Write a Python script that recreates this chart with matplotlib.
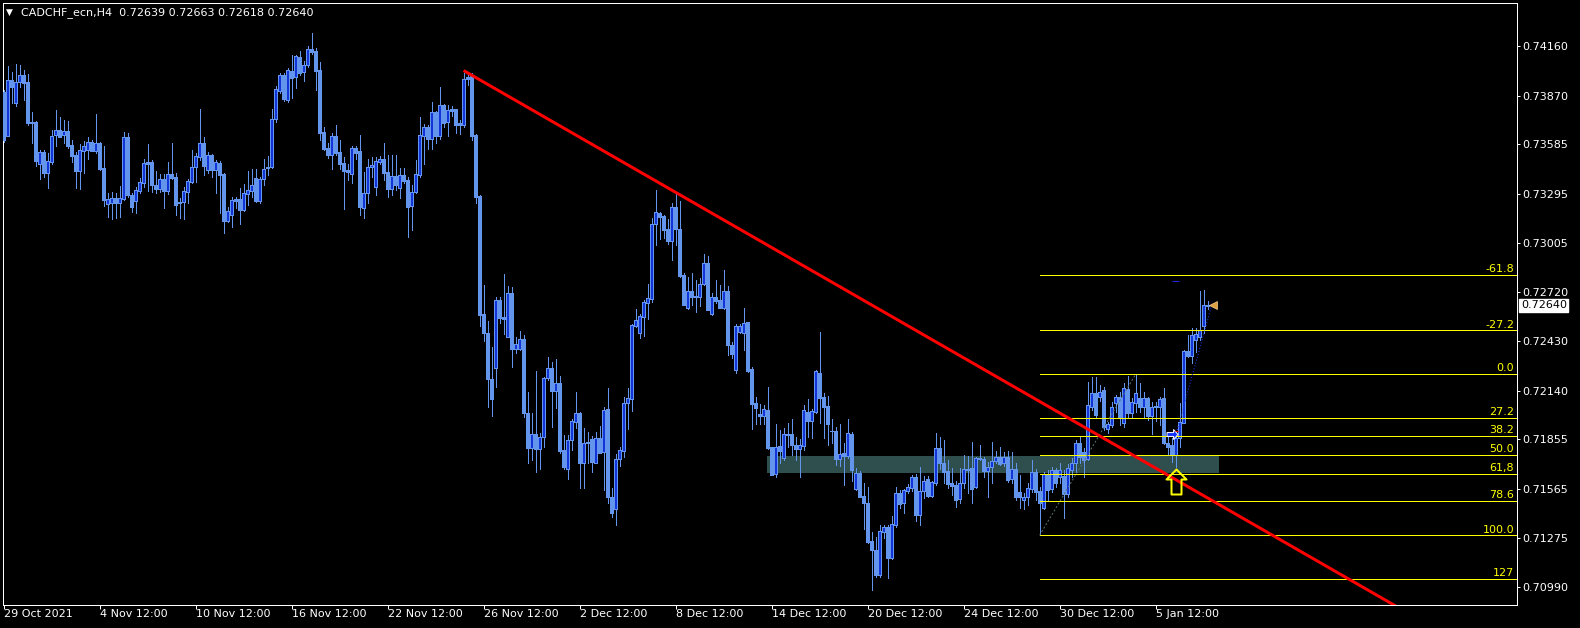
import matplotlib
matplotlib.use("Agg")
import matplotlib.pyplot as plt
import numpy as np
from matplotlib.patches import Rectangle
from matplotlib.path import Path

# CADCHF_ecn H4 candles, first bar 29 Oct 2021 12:00; prices in points (1e-5)
opens_pts = [
    73892, 73634, 73963, 73828, 73951, 73992, 73951, 73716, 73716, 73470,
    73540, 73417, 73482, 73640, 73669, 73640, 73663, 73581, 73523, 73429,
    73546, 73552, 73599, 73546, 73593, 73446, 73235, 73241, 73270, 73241,
    73264, 73628, 73288, 73253, 73311, 73358, 73482, 73482, 73347, 73323,
    73382, 73311, 73411, 73394, 73247, 73247, 73306, 73364, 73452, 73511,
    73593, 73435, 73523, 73435, 73476, 73411, 73135, 73171, 73264, 73264,
    73200, 73294, 73311, 73388, 73253, 73382, 73446, 73452, 73734, 73898,
    73992, 73845, 74015, 73980, 74098, 74010, 74051, 74145, 74133, 74021,
    73658, 73564, 73523, 73634, 73540, 73476, 73435, 73411, 73564, 73546,
    73212, 73300, 73452, 73335, 73482, 73499, 73423, 73323, 73399, 73329,
    73405, 73376, 73223, 73306, 73405, 73634, 73687, 73617, 73775, 73634,
    73816, 73716, 73793, 73793, 73710, 73699, 73980, 73992, 73640, 73282,
    72590, 72478, 72208, 72273, 72672, 72572, 72455, 72713, 72384, 72384,
    72443, 72009, 71804, 71886, 71798, 71868, 72214, 72273, 72138, 72185,
    71792, 71680, 71851, 71956, 72009, 71716, 71833, 71856, 71716, 71862,
    71780, 72032, 71516, 71446, 71739, 71786, 72068, 72091, 72519, 72478,
    72572, 72654, 72678, 73118, 73182, 73165, 73089, 73018, 73217, 73089,
    72819, 72625, 72725, 72695, 72690, 72766, 72889, 72590, 72690, 72672,
    72625, 72725, 72408, 72262, 72484, 72478, 72543, 72267, 72068, 72003,
    71991, 72027, 71810, 71651, 71815, 71745, 71886, 71886, 71821, 71798,
    71815, 72015, 71962, 72015, 72244, 72103, 72050, 71903, 71903, 71739,
    71774, 71757, 71886, 71563, 71657, 71522, 71481, 71258, 71205, 71058,
    71311, 71340, 71158, 71352, 71540, 71481, 71551, 71569, 71633, 71410,
    71551, 71622, 71522, 71598, 71804, 71716, 71669, 71598, 71587, 71504,
    71598, 71675, 71686, 71575, 71745, 71739, 71669, 71692, 71727, 71751,
    71716, 71751, 71622, 71680, 71546, 71499, 71516, 71563, 71663, 71551,
    71452, 71651, 71563, 71675, 71633, 71639, 71534, 71675, 71716, 71833,
    71780, 71739, 72044, 72126, 72103, 72144, 71915, 71939, 72068, 72103,
    71950, 72150, 72009, 72068, 72097, 72044, 72097, 71991, 72044, 72044,
    72097, 71833, 71821, 71763, 71862, 71950, 72373, 72343, 72437, 72455,
    72519, 72639,
]
highs_pts = [
    73904, 74045, 74010, 74057, 74051, 74021, 73998, 73775, 73722, 73552,
    73552, 73534, 73669, 73787, 73746, 73728, 73722, 73611, 73540, 73587,
    73605, 73628, 73611, 73763, 73599, 73575, 73300, 73306, 73300, 73341,
    73658, 73652, 73300, 73335, 73388, 73499, 73587, 73493, 73429, 73411,
    73411, 73482, 73593, 73417, 73270, 73335, 73382, 73552, 73534, 73793,
    73628, 73540, 73528, 73493, 73487, 73417, 73217, 73276, 73276, 73329,
    73353, 73429, 73441, 73441, 73394, 73499, 73517, 73793, 73927, 74004,
    74004, 74033, 74109, 74109, 74133, 74074, 74162, 74238, 74150, 74068,
    73687, 73593, 73652, 73699, 73611, 73511, 73470, 73575, 73575, 73640,
    73423, 73499, 73511, 73511, 73517, 73593, 73523, 73523, 73523, 73446,
    73446, 73394, 73347, 73493, 73746, 73705, 73699, 73834, 73781, 73922,
    73822, 73816, 73810, 73793, 73728, 74004, 74004, 74004, 73646, 73288,
    72760, 72549, 72396, 72690, 72690, 72824, 72754, 72748, 72455, 72490,
    72467, 72132, 72009, 72255, 71892, 72220, 72338, 72308, 72326, 72226,
    71880, 71880, 71974, 72132, 72015, 71921, 71897, 71874, 71897, 71933,
    72044, 72156, 71569, 71768, 71810, 72103, 72156, 72531, 72619, 72590,
    72672, 72766, 73153, 73317, 73188, 73171, 73147, 73241, 73300, 73253,
    72830, 72807, 72830, 72789, 72801, 72942, 72930, 72713, 72789, 72760,
    72848, 72754, 72426, 72531, 72531, 72625, 72543, 72279, 72103, 72062,
    72056, 72162, 71810, 71944, 71909, 71921, 71950, 71974, 71868, 71856,
    72056, 72091, 72032, 72262, 72484, 72126, 72109, 71974, 71927, 71944,
    71833, 71974, 71897, 71686, 71669, 71598, 71575, 71311, 71281, 71352,
    71352, 71352, 71405, 71575, 71557, 71563, 71592, 71645, 71651, 71692,
    71639, 71639, 71610, 71892, 71868, 71851, 71733, 71686, 71610, 71686,
    71763, 71757, 71839, 71751, 71821, 71751, 71722, 71839, 71786, 71810,
    71780, 71786, 71780, 71716, 71645, 71540, 71598, 71733, 71680, 71575,
    71663, 71675, 71692, 71686, 71716, 71675, 71710, 71745, 71851, 71868,
    71804, 72191, 72220, 72220, 72173, 72162, 71956, 72074, 72115, 72132,
    72185, 72226, 72097, 72236, 72185, 72132, 72103, 72074, 72074, 72103,
    72156, 71897, 71862, 71892, 72068, 72379, 72467, 72508, 72508, 72725,
    72731, 72663,
]
lows_pts = [
    73599, 73634, 73828, 73810, 73922, 73845, 73699, 73593, 73458, 73382,
    73394, 73329, 73470, 73575, 73628, 73593, 73564, 73482, 73329, 73323,
    73417, 73499, 73546, 73534, 73435, 73223, 73159, 73147, 73153, 73159,
    73258, 73276, 73188, 73182, 73300, 73335, 73311, 73306, 73300, 73306,
    73212, 73294, 73382, 73171, 73153, 73147, 73241, 73358, 73364, 73493,
    73405, 73417, 73394, 73300, 73182, 73065, 73130, 73100, 73212, 73118,
    73194, 73229, 73276, 73247, 73241, 73347, 73405, 73446, 73716, 73886,
    73839, 73834, 73857, 73916, 73992, 73957, 74039, 74115, 73904, 73611,
    73552, 73505, 73441, 73523, 73441, 73206, 73376, 73358, 73499, 73171,
    73153, 73241, 73394, 73288, 73470, 73376, 73276, 73288, 73317, 73270,
    73358, 73042, 73083, 73300, 73394, 73470, 73558, 73558, 73593, 73617,
    73687, 73634, 73751, 73652, 73646, 73687, 73933, 73611, 73241, 72519,
    72431, 72044, 71991, 72162, 72537, 72472, 72455, 72279, 72361, 72379,
    71985, 71716, 71733, 71663, 71680, 71810, 72203, 71927, 72038, 71774,
    71680, 71622, 71792, 71921, 71569, 71569, 71716, 71663, 71716, 71774,
    71557, 71481, 71399, 71352, 71698, 71751, 71915, 72021, 72514, 72449,
    72461, 72560, 72660, 72995, 73030, 73036, 73001, 72907, 72995, 72807,
    72643, 72619, 72643, 72602, 72637, 72760, 72613, 72584, 72654, 72625,
    72619, 72349, 72332, 72244, 72478, 72379, 72250, 71915, 71944, 71944,
    71944, 71798, 71645, 71633, 71716, 71733, 71810, 71763, 71733, 71633,
    71792, 71868, 71862, 72009, 71950, 71862, 71821, 71833, 71704, 71698,
    71587, 71745, 71610, 71557, 71516, 71328, 71246, 70970, 71047, 71047,
    71276, 71041, 71152, 71340, 71452, 71422, 71540, 71551, 71375, 71352,
    71510, 71516, 71516, 71587, 71680, 71598, 71569, 71528, 71457, 71481,
    71569, 71540, 71481, 71569, 71733, 71633, 71516, 71598, 71716, 71704,
    71698, 71604, 71598, 71499, 71452, 71446, 71469, 71546, 71499, 71300,
    71446, 71499, 71546, 71575, 71598, 71393, 71516, 71633, 71663, 71716,
    71633, 71733, 72027, 71985, 72079, 71909, 71892, 71927, 72015, 71939,
    71927, 71985, 71980, 72015, 72015, 71980, 71968, 71886, 71962, 71939,
    71827, 71763, 71722, 71692, 71810, 71950, 72338, 72302, 72367, 72437,
    72478, 72618,
]
closes_pts = [
    73611, 73963, 73922, 73951, 73992, 73945, 73710, 73710, 73487, 73540,
    73417, 73487, 73634, 73669, 73628, 73663, 73575, 73517, 73429, 73552,
    73575, 73599, 73546, 73593, 73441, 73258, 73264, 73270, 73241, 73270,
    73628, 73288, 73217, 73317, 73364, 73476, 73470, 73347, 73323, 73382,
    73311, 73411, 73388, 73229, 73241, 73311, 73370, 73452, 73517, 73593,
    73458, 73523, 73435, 73482, 73405, 73135, 73194, 73258, 73253, 73200,
    73300, 73317, 73347, 73253, 73382, 73441, 73452, 73734, 73910, 73992,
    73851, 74021, 73974, 74103, 74004, 74051, 74145, 74127, 74015, 73652,
    73558, 73523, 73634, 73534, 73470, 73429, 73423, 73564, 73534, 73217,
    73300, 73452, 73464, 73487, 73499, 73417, 73323, 73399, 73347, 73405,
    73370, 73217, 73306, 73411, 73640, 73687, 73617, 73775, 73634, 73816,
    73710, 73787, 73781, 73699, 73699, 73969, 73969, 73634, 73276, 72584,
    72478, 72208, 72091, 72672, 72566, 72560, 72713, 72384, 72414, 72443,
    72009, 71804, 71886, 71798, 71868, 72214, 72273, 72138, 72185, 71786,
    71692, 71851, 71962, 72009, 71716, 71833, 71839, 71722, 71862, 71774,
    72027, 71516, 71422, 71739, 71792, 72068, 72097, 72525, 72555, 72578,
    72660, 72684, 73118, 73188, 73159, 73083, 73018, 73217, 73089, 72813,
    72643, 72725, 72690, 72690, 72766, 72889, 72613, 72690, 72666, 72625,
    72725, 72408, 72355, 72519, 72519, 72537, 72255, 72062, 72038, 71991,
    72032, 71804, 71645, 71810, 71786, 71886, 71880, 71821, 71798, 71821,
    72027, 71962, 72021, 72255, 72097, 72044, 71944, 71903, 71739, 71768,
    71757, 71892, 71675, 71657, 71516, 71481, 71252, 71205, 71058, 71317,
    71340, 71158, 71358, 71540, 71475, 71557, 71575, 71633, 71410, 71551,
    71610, 71522, 71604, 71804, 71716, 71663, 71592, 71581, 71499, 71598,
    71680, 71680, 71563, 71745, 71739, 71669, 71692, 71727, 71751, 71710,
    71751, 71616, 71680, 71516, 71516, 71516, 71569, 71663, 71546, 71481,
    71651, 71557, 71675, 71598, 71675, 71534, 71686, 71716, 71833, 71751,
    71733, 72056, 72126, 71997, 72132, 71927, 71944, 72044, 72103, 71980,
    72156, 72009, 72074, 72126, 72044, 72097, 71991, 72044, 72050, 72091,
    71833, 71810, 71763, 71862, 71956, 72373, 72343, 72467, 72472, 72496,
    72643, 72640,
]

symbol = "CADCHF_ecn,H4"
date_labels = ["29 Oct 2021", "4 Nov 12:00", "10 Nov 12:00", "16 Nov 12:00",
               "22 Nov 12:00", "26 Nov 12:00", "2 Dec 12:00", "8 Dec 12:00",
               "14 Dec 12:00", "20 Dec 12:00", "24 Dec 12:00", "30 Dec 12:00",
               "5 Jan 12:00"]
bars_per_label = 24
price_ticks = [0.74160, 0.73870, 0.73585, 0.73295, 0.73005, 0.72720,
               0.72430, 0.72140, 0.71855, 0.71565, 0.71275, 0.70990]

# trendline anchors (bar, price)
trend_bars = [115, 347]
trend_prices = [0.74018, 0.70890]

# fibonacci retracement: anchor 1 (100%) and anchor 2 (0%)
fib_bars = [259, 283]
fib_prices = [0.71291, 0.72236]
fib_levels = [-61.8, -27.2, 0.0, 27.2, 38.2, 50.0, 61.8, 78.6, 100.0, 127.0]
fib_labels = ["-61.8", "-27.2", "0.0", "27.2", "38.2", "50.0", "61,8", "78.6", "100.0", "127"]

# support zone rectangle
zone_bars = [190.8, 303.8]
zone_prices = [0.71659, 0.71757]

# arrow + trade objects
arrow_bar, arrow_price = 293, 0.71680
entry_bar, entry_price = 292, 0.71886
trade_bars = [293, 302]
trade_prices = [0.71875, 0.72640]
close_mark_bar = 302.3
tp_bars = [292, 293.8]
tp_price = 0.72783

W, H = 1580, 628
PLOT_L, PLOT_T, PLOT_R, PLOT_B = 2.7, 2.7, 1517.0, 604.7
BAR0_PX, BAR_PX = 3.6, 4.0
PX = 0.72  # points per pixel at dpi 100

WICK = "#6495ED"
BULL = "#1234d8"
YELLOW = "#FFFF00"

plt.rcParams["font.family"] = ["DejaVu Sans"]
plt.rcParams["font.size"] = 8

opens = np.array(opens_pts) / 1e5
highs = np.array(highs_pts) / 1e5
lows = np.array(lows_pts) / 1e5
closes = np.array(closes_pts) / 1e5
x = np.arange(len(opens))

fig = plt.figure(figsize=(W / 100, H / 100), dpi=100, facecolor="black")
ax = fig.add_axes([PLOT_L / W, 1 - PLOT_B / H, (PLOT_R - PLOT_L) / W, (PLOT_B - PLOT_T) / H])
ax.set_facecolor("black")
xmin = (PLOT_L - BAR0_PX) / BAR_PX
xmax = (PLOT_R - BAR0_PX) / BAR_PX
ax.set_xlim(xmin, xmax)
ax.set_ylim(0.70884, 0.74416)

# zone behind candles
ax.add_patch(Rectangle((zone_bars[0], zone_prices[0]), zone_bars[1] - zone_bars[0],
                       zone_prices[1] - zone_prices[0], facecolor="#2F4F4F",
                       edgecolor="none", zorder=1))

# candles
body_lo = np.minimum(opens, closes)
body_hi = np.maximum(opens, closes)
ax.vlines(x, np.minimum(lows, body_lo), np.maximum(highs, body_hi), color=WICK,
          linewidth=PX, antialiased=False, zorder=2)
face = [BULL if c > o else WICK for o, c in zip(opens, closes)]
ax.bar(x, body_hi - body_lo, bottom=body_lo, width=0.6, color=face, edgecolor=WICK,
       linewidth=PX, antialiased=False, zorder=3)

# fibonacci levels
fib_lo, fib_hi = fib_prices
fib_level_prices = [fib_hi - lv / 100 * (fib_hi - fib_lo) for lv in fib_levels]
ax.hlines(fib_level_prices, fib_bars[0], xmax, color=YELLOW, linewidth=PX,
          antialiased=False, zorder=4)
ax.plot(fib_bars, fib_prices, color="#587070", linewidth=PX, linestyle=(0, (2, 2)), zorder=4)
for p, lab in zip(fib_level_prices, fib_labels):
    ax.annotate(lab, xy=(1, p), xycoords=ax.get_yaxis_transform(), xytext=(-2.0, 2.0),
                textcoords="offset points", ha="right", va="baseline", color=YELLOW,
                fontsize=8, zorder=6)

# trendline (ray)
slope = (trend_prices[1] - trend_prices[0]) / (trend_bars[1] - trend_bars[0])
ray_x = [trend_bars[0], xmax]
ray_y = [trend_prices[0], trend_prices[0] + slope * (xmax - trend_bars[0])]
ax.plot(ray_x, ray_y, color="#FF0000", linewidth=3 * PX, solid_capstyle="butt", zorder=5)

# hollow up arrow under the breakout
arrow_path = Path([(0, 0), (10, -10), (5, -10), (5, -25), (-5, -25), (-5, -10), (-10, -10), (0, 0)],
                  [Path.MOVETO] + [Path.LINETO] * 6 + [Path.CLOSEPOLY])
ax.plot([arrow_bar], [arrow_price], marker=arrow_path, markersize=50 * PX,
        markerfacecolor="none", markeredgecolor=YELLOW, markeredgewidth=2 * PX, zorder=7)

# trade markers
ax.plot(trade_bars, trade_prices, color="#1f3cff", linewidth=PX, linestyle=(0, (1, 2)), zorder=6)
buy_path = Path([(-1, 0.35), (0.2, 0.35), (0.2, 0.9), (1, 0), (0.2, -0.9), (0.2, -0.35), (-1, -0.35), (-1, 0.35)],
                [Path.MOVETO] + [Path.LINETO] * 6 + [Path.CLOSEPOLY])
ax.plot([entry_bar], [entry_price], marker=buy_path, markersize=11 * PX,
        markerfacecolor="#1030ff", markeredgecolor="white", markeredgewidth=PX, zorder=7)
ax.hlines(entry_price + 0.00017, entry_bar + 0.8, entry_bar + 1.6, color="#FF0000",
          linewidth=PX, zorder=7)
ax.hlines(tp_price, tp_bars[0], tp_bars[1], color="#1a2bd8", linewidth=PX, zorder=6)
ax.plot([close_mark_bar], [closes[-1]], marker="<", markersize=8 * PX,
        markerfacecolor="#E0A040", markeredgecolor="#f0d090", markeredgewidth=0.5, zorder=7)

# frame and axes
for sp in ax.spines.values():
    sp.set_color("white")
    sp.set_linewidth(PX)
ax.yaxis.tick_right()
ax.set_yticks(price_ticks)
ax.set_yticklabels([f"{p:.5f}" for p in price_ticks])
ax.tick_params(axis="y", colors="white", length=3 * PX, width=PX, pad=2 * PX, labelsize=8)
ax.set_xticks(range(0, bars_per_label * len(date_labels), bars_per_label))
ax.set_xticklabels(date_labels, ha="left")
ax.tick_params(axis="x", colors="white", length=4 * PX, width=PX, pad=0.5, labelsize=8)

# current price box
ax.annotate(f"{closes[-1]:.5f}", xy=(1, closes[-1]), xycoords=ax.get_yaxis_transform(),
            xytext=(3.8 * PX, 0), textcoords="offset points", ha="left", va="center",
            color="black", fontsize=8, annotation_clip=False,
            bbox=dict(boxstyle="square,pad=0.15", facecolor="white", edgecolor="white"))

# header
fig.text(6 / W, 1 - 12.5 / H, "\u25bc", color="white", fontsize=6.5, va="center", ha="left")
header = f"{symbol}  {opens[-1]:.5f} {highs[-1]:.5f} {lows[-1]:.5f} {closes[-1]:.5f}"
fig.text(21 / W, 1 - 12.5 / H, header, color="white", fontsize=8, va="center", ha="left")

fig.savefig("out.png", dpi=100, facecolor="black")
